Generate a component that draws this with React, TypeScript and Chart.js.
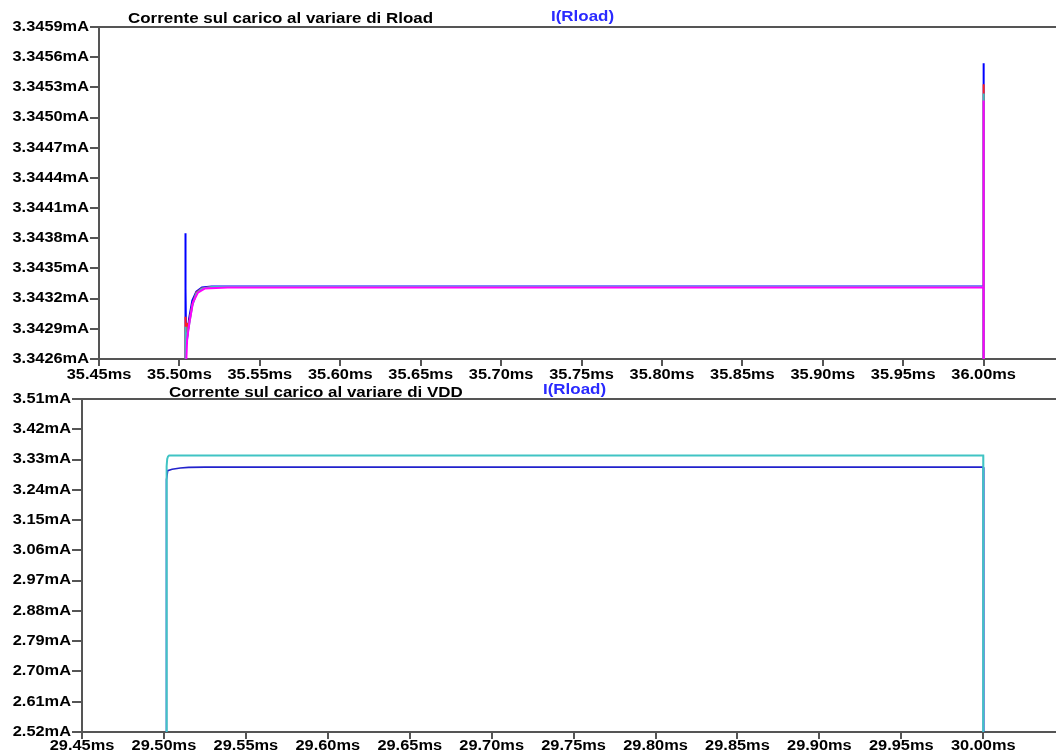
import React, { useEffect, useRef } from "react";
import { Chart, registerables } from "chart.js";

Chart.register(...registerables);

// ---------------- Shared text ----------------
const TRACE_NAME = "I(Rload)";

// ---------------- Top chart: current vs Rload ----------------
const TOP_TITLE = "Corrente sul carico al variare di Rload";
const TOP_X_TICKS = [35.45, 35.5, 35.55, 35.6, 35.65, 35.7, 35.75, 35.8, 35.85, 35.9, 35.95, 36.0];
const TOP_X_LABELS = ["35.45ms", "35.50ms", "35.55ms", "35.60ms", "35.65ms", "35.70ms", "35.75ms", "35.80ms", "35.85ms", "35.90ms", "35.95ms", "36.00ms"];
const TOP_Y_TICKS = [3.3426, 3.3429, 3.3432, 3.3435, 3.3438, 3.3441, 3.3444, 3.3447, 3.345, 3.3453, 3.3456, 3.3459];
const TOP_Y_LABELS = ["3.3426mA", "3.3429mA", "3.3432mA", "3.3435mA", "3.3438mA", "3.3441mA", "3.3444mA", "3.3447mA", "3.3450mA", "3.3453mA", "3.3456mA", "3.3459mA"];

// time (ms) / current (mA) of each Rload trace
const RL_BLUE_T = [35.44, 35.5035, 35.50365, 35.5038, 35.5039, 35.5041, 35.5045, 35.506, 35.508, 35.5105, 35.514, 35.52, 36.0, 36.00001, 36.00003, 36.05];
const RL_BLUE_I = [0, 0, 3.34385, 3.3428, 3.3433, 3.34285, 3.34275, 3.343, 3.34318, 3.34327, 3.34331, 3.34332, 3.34332, 3.34554, 0, 0];

const RL_RED_T = [35.44, 35.5036, 35.5037, 35.5039, 35.5042, 35.5047, 35.506, 35.508, 35.5105, 35.514, 35.52, 36.0, 36.00001, 36.00003, 36.05];
const RL_RED_I = [0, 0, 3.34302, 3.34284, 3.34296, 3.34282, 3.34296, 3.34314, 3.34326, 3.3433, 3.343315, 3.343315, 3.34533, 0, 0];

const RL_TEAL_T = [35.44, 35.5036, 35.5037, 35.504, 35.5045, 35.506, 35.508, 35.5105, 35.514, 35.52, 36.0, 36.00001, 36.00003, 36.05];
const RL_TEAL_I = [0, 0, 3.34292, 3.34276, 3.3428, 3.34294, 3.34313, 3.34325, 3.3433, 3.343315, 3.343315, 3.34524, 0, 0];

const RL_MAGENTA_T = [35.44, 35.5037, 35.50385, 35.5048, 35.5063, 35.5084, 35.5115, 35.5157, 35.53, 36.0, 36.00001, 36.00003, 36.05];
const RL_MAGENTA_I = [0, 0, 3.3424, 3.3428, 3.34297, 3.34316, 3.34326, 3.3433, 3.34331, 3.34331, 3.34517, 0, 0];

// ---------------- Bottom chart: current vs VDD ----------------
const BOT_TITLE = "Corrente sul carico al variare di VDD";
const BOT_X_TICKS = [29.45, 29.5, 29.55, 29.6, 29.65, 29.7, 29.75, 29.8, 29.85, 29.9, 29.95, 30.0];
const BOT_X_LABELS = ["29.45ms", "29.50ms", "29.55ms", "29.60ms", "29.65ms", "29.70ms", "29.75ms", "29.80ms", "29.85ms", "29.90ms", "29.95ms", "30.00ms"];
const BOT_Y_TICKS = [2.52, 2.61, 2.7, 2.79, 2.88, 2.97, 3.06, 3.15, 3.24, 3.33, 3.42, 3.51];
const BOT_Y_LABELS = ["2.52mA", "2.61mA", "2.70mA", "2.79mA", "2.88mA", "2.97mA", "3.06mA", "3.15mA", "3.24mA", "3.33mA", "3.42mA", "3.51mA"];

const VDD_TEAL_T = [29.44, 29.5015, 29.5016, 29.5017, 29.502, 29.5025, 29.5032, 30.0, 30.00005, 30.05];
const VDD_TEAL_I = [0, 0, 3.25, 3.31, 3.332, 3.339, 3.342, 3.342, 0, 0];

const VDD_BLUE_T = [29.44, 29.5014, 29.50145, 29.5015, 29.5017, 29.5023, 29.505, 29.51, 29.515, 29.525, 30.0, 30.0001, 30.0004, 30.00042, 30.05];
const VDD_BLUE_I = [0, 0, 3.2, 3.234, 3.27, 3.297, 3.301, 3.305, 3.3068, 3.3074, 3.3074, 3.175, 3.142, 0, 0];

// ---------------- Styling ----------------
const AXIS_COLOR = "#555555";
const TEXT_FONT = "bold 14px 'Liberation Sans', Arial, sans-serif";
const TICK_SX = 1.17;
const TITLE_SX = 1.21;

function pts(t: number[], v: number[]) {
  return t.map((x, i) => ({ x, y: v[i] }));
}

function drawStretched(ctx: CanvasRenderingContext2D, text: string, x: number, y: number, align: string, sx: number) {
  const w = ctx.measureText(text).width * sx;
  const left = align === "right" ? x - w : align === "center" ? x - w / 2 : x;
  ctx.save();
  ctx.translate(left, y);
  ctx.scale(sx, 1);
  ctx.textAlign = "left";
  ctx.fillText(text, 0, 0);
  ctx.restore();
}

type TextCfg = {
  xLabels: string[];
  yLabels: string[];
  title: string;
  titleX: number;
  titleY: number;
  traceX: number;
  traceY: number;
  xLabelY: number;
  yTickLen: number;
};

function textPlugin(p: TextCfg) {
  return {
    id: "spiceText",
    afterDraw(chart: any) {
      const { ctx, chartArea, scales } = chart;
      ctx.save();
      ctx.strokeStyle = AXIS_COLOR;
      ctx.lineWidth = 2;
      ctx.beginPath();
      ctx.moveTo(chartArea.left, Math.round(chartArea.top));
      ctx.lineTo(chart.width, Math.round(chartArea.top));
      ctx.stroke();

      ctx.font = TEXT_FONT;
      ctx.fillStyle = "#000000";
      ctx.textBaseline = "middle";
      scales.y.ticks.forEach((t: any, i: number) => {
        drawStretched(ctx, p.yLabels[i], scales.y.right - p.yTickLen - 1, scales.y.getPixelForValue(t.value), "right", TICK_SX);
      });
      scales.x.ticks.forEach((t: any, i: number) => {
        drawStretched(ctx, p.xLabels[i], scales.x.getPixelForValue(t.value), p.xLabelY, "center", TICK_SX);
      });
      ctx.textBaseline = "alphabetic";
      drawStretched(ctx, p.title, p.titleX, p.titleY, "left", TITLE_SX);
      ctx.fillStyle = "#2a2aff";
      drawStretched(ctx, TRACE_NAME, p.traceX, p.traceY, "left", TITLE_SX);
      ctx.restore();
    },
  };
}

function buildChart(
  canvas: HTMLCanvasElement,
  datasets: any[],
  xMin: number,
  xMax: number,
  xTicks: number[],
  yMin: number,
  yMax: number,
  yTicks: number[],
  yAxisWidth: number,
  xAxisHeight: number,
  topPad: number,
  yTickLen: number,
  text: TextCfg
) {
  return new Chart(canvas, {
    type: "line",
    data: { datasets },
    plugins: [textPlugin(text)],
    options: {
      animation: false,
      responsive: false,
      events: [],
      layout: { padding: { top: topPad, left: 0, right: 0, bottom: 0 } },
      plugins: { legend: { display: false }, tooltip: { enabled: false } },
      elements: { point: { radius: 0 }, line: { tension: 0 } },
      scales: {
        x: {
          type: "linear",
          min: xMin,
          max: xMax,
          afterBuildTicks: (s: any) => {
            s.ticks = xTicks.map((v) => ({ value: v }));
          },
          afterFit: (s: any) => {
            s.height = xAxisHeight;
          },
          ticks: { display: false, autoSkip: false },
          grid: { display: true, drawOnChartArea: false, drawTicks: true, tickLength: 7, color: AXIS_COLOR, lineWidth: 2 },
          border: { display: true, color: AXIS_COLOR, width: 2 },
        },
        y: {
          type: "linear",
          min: yMin,
          max: yMax,
          afterBuildTicks: (s: any) => {
            s.ticks = yTicks.map((v) => ({ value: v }));
          },
          afterFit: (s: any) => {
            s.width = yAxisWidth;
          },
          ticks: { display: false, autoSkip: false },
          grid: { display: true, drawOnChartArea: false, drawTicks: true, tickLength: yTickLen, color: AXIS_COLOR, lineWidth: 2 },
          border: { display: true, color: AXIS_COLOR, width: 2 },
        },
      },
    } as any,
  });
}

export default function App() {
  const topRef = useRef<HTMLCanvasElement>(null);
  const botRef = useRef<HTMLCanvasElement>(null);

  useEffect(() => {
    const top = buildChart(
      topRef.current!,
      [
        { data: pts(RL_BLUE_T, RL_BLUE_I), borderColor: "#0000ff", borderWidth: 2, order: 3 },
        { data: pts(RL_RED_T, RL_RED_I), borderColor: "#ff2020", borderWidth: 2, order: 2 },
        { data: pts(RL_TEAL_T, RL_TEAL_I), borderColor: "#3cc0c0", borderWidth: 2, order: 1 },
        { data: pts(RL_MAGENTA_T, RL_MAGENTA_I), borderColor: "#ff00ff", borderWidth: 2, order: 0 },
      ],
      35.45,
      36.045,
      TOP_X_TICKS,
      3.3426,
      3.3459,
      TOP_Y_TICKS,
      99,
      24,
      27,
      9,
      {
        xLabels: TOP_X_LABELS,
        yLabels: TOP_Y_LABELS,
        title: TOP_TITLE,
        titleX: 128,
        titleY: 23,
        traceX: 551,
        traceY: 21,
        xLabelY: 375,
        yTickLen: 9,
      }
    );
    const bot = buildChart(
      botRef.current!,
      [
        { data: pts(VDD_BLUE_T, VDD_BLUE_I), borderColor: "#2222cc", borderWidth: 1.6, order: 1 },
        { data: pts(VDD_TEAL_T, VDD_TEAL_I), borderColor: "#40c4c4", borderWidth: 2, order: 0 },
      ],
      29.45,
      30.0444,
      BOT_X_TICKS,
      2.52,
      3.51,
      BOT_Y_TICKS,
      82,
      24,
      16,
      10,
      {
        xLabels: BOT_X_LABELS,
        yLabels: BOT_Y_LABELS,
        title: BOT_TITLE,
        titleX: 169,
        titleY: 14,
        traceX: 543,
        traceY: 11,
        xLabelY: 363,
        yTickLen: 10,
      }
    );
    return () => {
      top.destroy();
      bot.destroy();
    };
  }, []);

  return (
    <div style={{ position: "fixed", left: 0, top: 0, width: 1056, height: 756, background: "#ffffff" }}>
      <canvas ref={topRef} width={1056} height={383} style={{ position: "absolute", left: 0, top: 0 }} />
      <canvas ref={botRef} width={1056} height={373} style={{ position: "absolute", left: 0, top: 383 }} />
    </div>
  );
}
